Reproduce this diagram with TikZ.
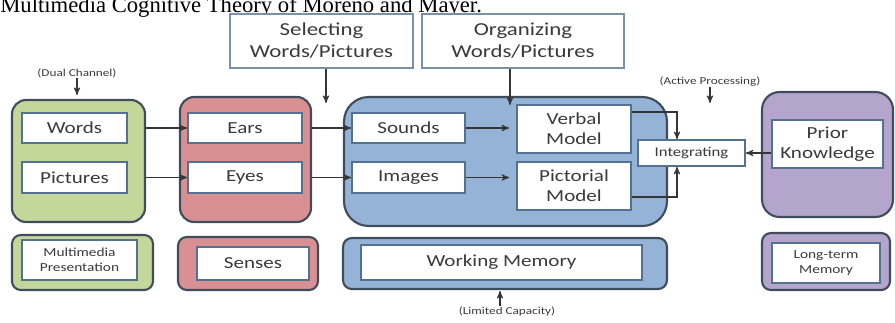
\documentclass[tikz,border=0pt]{standalone}
\usepackage{fontspec}
\setmainfont{Carlito}[FakeStretch=1.25]
\newfontfamily\titlefont{Liberation Serif}
\usepackage{tikz}
\usetikzlibrary{arrows,calc}
\usepackage{xcolor}

\definecolor{greenfill}{HTML}{C4D79B}
\definecolor{redfill}{HTML}{D99092}
\definecolor{bluefill}{HTML}{95B3D7}
\definecolor{purplefill}{HTML}{B3A5CC}
\definecolor{panelline}{HTML}{3F4C5C}
\definecolor{boxline}{HTML}{557190}
\definecolor{headline}{HTML}{7890A8}
\definecolor{textgray}{HTML}{3A3A3A}
\definecolor{linegray}{HTML}{353535}

\tikzset{
  panel/.style={draw=panelline, line width=1.2pt, rounded corners=8pt},
  box/.style={draw=boxline, line width=1pt, fill=white, text=textgray, align=center,
              inner sep=0pt, font=\fontsize{9.6}{11.5}\selectfont},
  headbox/.style={box, draw=headline, font=\fontsize{10.4}{12.5}\selectfont},
  note/.style={text=textgray, inner sep=0pt, font=\fontsize{6}{7}\selectfont},
  link/.style={->, draw=linegray, line width=0.6pt},
}

\begin{document}
\begin{tikzpicture}[x=0.02cm,y=-0.02cm,>=stealth']
    \useasboundingbox (0,0) rectangle (895,322);
    \clip (0,0) rectangle (895,322);
    % ------------------------------------------------------------------
    %                             HEADING
    % ------------------------------------------------------------------
    \node[anchor=base west, inner sep=0pt, font=\titlefont\fontsize{12.9}{14}\selectfont]
      (title) at (0,12.5) {Multimedia Cognitive Theory of Moreno and Mayer.};
    \node[headbox, minimum width=3.66cm, minimum height=1.08cm] (select)   at (321.5,41) {Selecting\\Words/Pictures};
    \node[headbox, minimum width=4.04cm, minimum height=1.08cm] (organize) at (523,41)   {Organizing\\Words/Pictures};

    % ------------------------------------------------------------------
    %                             PANELS
    % ------------------------------------------------------------------
    \node[panel, fill=greenfill, minimum width=2.66cm, minimum height=2.44cm] (media)  at (78.5,161) {};
    \node[panel, fill=redfill, minimum width=2.62cm, minimum height=2.5cm]    (senses) at (245.5,159.5) {};
    \node[panel, fill=bluefill, rounded corners=14pt, minimum width=6.46cm, minimum height=2.58cm] (work) at (505.5,161.5) {};
    \node[panel, fill=purplefill, rounded corners=10pt, minimum width=2.62cm, minimum height=2.5cm] (long) at (827.5,154.5) {};

    % left column
    \node[box, minimum width=2.1cm, minimum height=0.6cm]   (words)    at (74.5,128)   {Words};
    \node[box, minimum width=2.1cm, minimum height=0.62cm]  (pictures) at (74.5,177.5) {Pictures};
    % senses
    \node[box, minimum width=2.28cm, minimum height=0.6cm]  (ears)     at (245,128)    {Ears};
    \node[box, minimum width=2.28cm, minimum height=0.62cm] (eyes)     at (245,177.5)  {Eyes};
    % working memory
    \node[box, minimum width=2.26cm, minimum height=0.6cm]  (sounds)   at (408.5,128)  {Sounds};
    \node[box, minimum width=2.26cm, minimum height=0.62cm] (images)   at (408.5,177.5) {Images};
    \node[box, minimum width=2.28cm, minimum height=0.96cm] (verbal)   at (574,129)    {Verbal\\Model};
    \node[box, minimum width=2.28cm, minimum height=0.96cm] (pictorial) at (574,186)   {Pictorial\\Model};
    % integrating and long-term memory
    \node[box, minimum width=2.14cm, minimum height=0.52cm, font=\fontsize{7.6}{9}\selectfont]
      (integrate) at (691.5,153) {Integrating};
    \node[box, minimum width=2.22cm, minimum height=0.96cm] (prior)    at (827.5,144)  {Prior\\Knowledge};

    % ------------------------------------------------------------------
    %                             BOTTOM ROW
    % ------------------------------------------------------------------
    \node[panel, fill=greenfill, rounded corners=5pt, minimum width=2.82cm, minimum height=1.1cm] (mediabar) at (82.5,262.5) {};
    \node[box, minimum width=2.3cm, minimum height=0.8cm, font=\fontsize{7}{8.4}\selectfont]
      (mediatxt) at (79.5,260) {Multimedia\\Presentation};
    \node[panel, fill=redfill, rounded corners=5pt, minimum width=2.8cm, minimum height=1.06cm] (sensesbar) at (248,263.5) {};
    \node[box, minimum width=2.24cm, minimum height=0.66cm] (sensestxt) at (253,263.5) {Senses};
    \node[panel, fill=bluefill, rounded corners=5pt, minimum width=6.48cm, minimum height=1.02cm] (workbar) at (505,263.5) {};
    \node[box, minimum width=5.62cm, minimum height=0.7cm] (worktxt) at (501.5,262.5) {Working Memory};
    \node[panel, fill=purplefill, rounded corners=5pt, minimum width=2.56cm, minimum height=1.14cm] (longbar) at (826,261.5) {};
    \node[box, minimum width=2.16cm, minimum height=0.8cm, font=\fontsize{7}{8.4}\selectfont]
      (longtxt) at (826,263) {Long-term\\Memory};

    % ------------------------------------------------------------------
    %                             NOTES
    % ------------------------------------------------------------------
    \node[note] (dual)    at (77,73)   {(Dual Channel)};
    \node[note] (active)  at (710,82)  {(Active Processing)};
    \node[note] (limited) at (507,311) {(Limited Capacity)};
    \coordinate (dualtip)    at (77,95);
    \coordinate (activetip)  at (710,103);
    \coordinate (limitedtip) at (500,291);
    \coordinate (selecttip)  at (326,103);
    \coordinate (orgtip)     at (510,105);
    \coordinate (vturn)      at (677,112);
    \coordinate (pturn)      at (677,197);

    % ------------------------------------------------------------------
    %                             EDGES
    % ------------------------------------------------------------------
    \draw[link] (dual.south) -- (dualtip);
    \draw[link] (active.south) -- (activetip);
    \draw[link] (limited.north -| limitedtip) -- (limitedtip);
    \draw[link] (select.south -| selecttip) -- (selecttip);
    \draw[link] (organize.south -| orgtip) -- (orgtip);
    % channels
    \draw[link] (words -| media.east)    -- (ears.west);
    \draw[link] (pictures -| media.east) -- (eyes.west);
    \draw[link] (ears -| senses.east)    -- (sounds.west);
    \draw[link] (eyes -| senses.east)    -- (images.west);
    \draw[link, shorten >=4pt] (sounds.east) -- (sounds -| verbal.west);
    \draw[link, shorten >=4pt] (images.east) -- (images -| pictorial.west);
    % integrating
    \draw[link] (verbal.east |- vturn) -- (vturn) -- (vturn |- integrate.north);
    \draw[link] (pictorial.east |- pturn) -- (pturn) -- (pturn |- integrate.south);
    \draw[link] (prior.west |- integrate) -- (integrate.east);
\end{tikzpicture}
\end{document}
